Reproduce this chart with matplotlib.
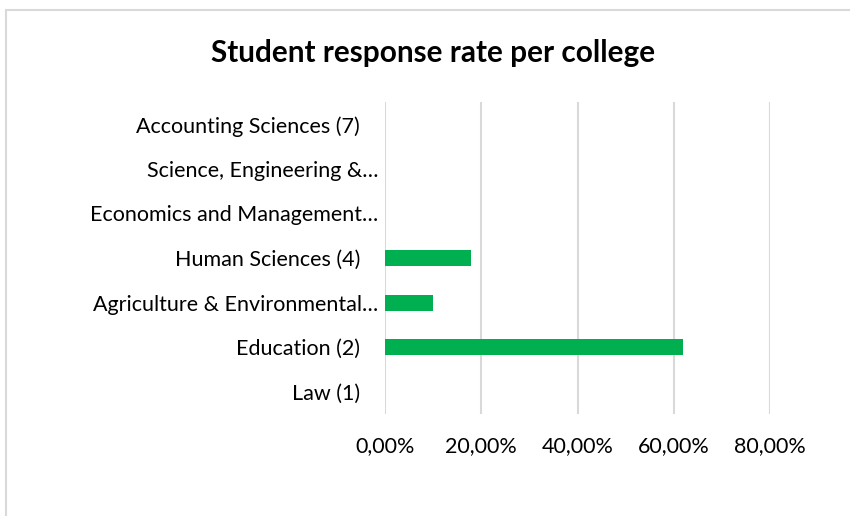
# -*- coding: utf-8 -*-
# Student response rate per college - horizontal bar chart

import matplotlib
matplotlib.use('Agg')
import matplotlib.pyplot as plt
import matplotlib.transforms as mtransforms
from matplotlib.patches import Rectangle
from matplotlib.ticker import FuncFormatter

plt.rcParams['font.family'] = ['Lato', 'DejaVu Sans']

# data (bottom to top)
colleges = ['Law (1)', 'Education (2)', 'Agriculture & Environmental…',
            'Human Sciences (4)', 'Economics and Management…',
            'Science, Engineering &…', 'Accounting Sciences (7)']
rates = [0.0, 0.62, 0.10, 0.1786, 0.0, 0.0, 0.0]
xticks = [0.0, 0.2, 0.4, 0.6, 0.8]

fig = plt.figure(figsize=(8.5, 5.16), dpi=100)
ax = fig.add_axes([385/850, 1-414/516, 385/850, 312/516])

ax.barh(range(len(colleges)), rates, height=0.36, color='#00b050', zorder=3)
ax.set_yticks(range(len(colleges)))
ax.set_yticklabels(colleges)
ax.set_ylim(-0.5, len(colleges)-0.5)
ax.set_xlim(0, 0.8)
ax.set_xticks(xticks)
ax.xaxis.set_major_formatter(FuncFormatter(lambda v, p: ('%.2f%%' % (v*100)).replace('.', ',')))
ax.grid(axis='x', color='#d9d9d9', linewidth=1.5, zorder=0)
ax.grid(axis='y', visible=False)
for s in ax.spines.values(): s.set_visible(False)
ax.tick_params(axis='both', length=0, labelsize=15.5, colors='#000000')
ax.tick_params(axis='y', pad=18)
ax.tick_params(axis='x', pad=16)

# truncated labels sit a bit further right (like Excel does)
shift = mtransforms.ScaledTranslation(18/100, 0, fig.dpi_scale_trans)
for lab in ax.get_yticklabels():
    if lab.get_text().endswith('…'):
        lab.set_transform(lab.get_transform() + shift)

fig.text(433.5/850, 1-53/516, 'Student response rate per college',
         ha='center', va='center', fontsize=21.4, fontweight='bold')

# chart border (light gray, clipped at right/bottom)
fig.patches.append(Rectangle((5.5/850, -0.1), 2.0, 1-10/516+0.1,
                             transform=fig.transFigure, fill=False,
                             edgecolor='#d9d9d9', linewidth=1.5))

fig.savefig('out.png', dpi=100)
